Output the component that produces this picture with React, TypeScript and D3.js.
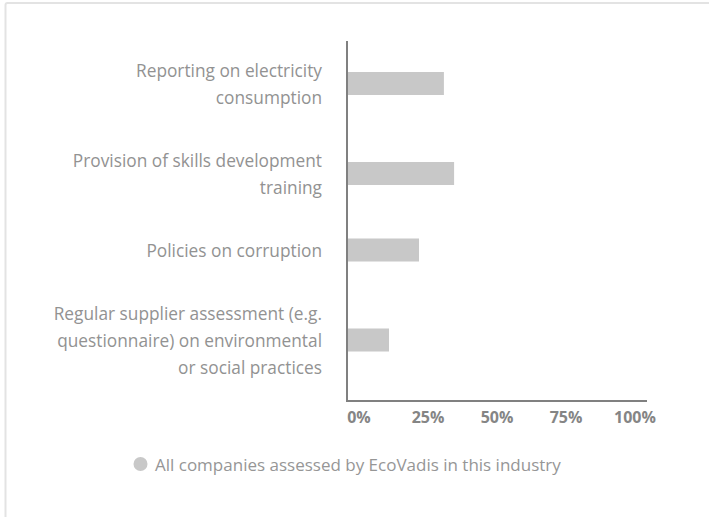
import React from "react";
import * as d3 from "d3";

const categories: string[][] = [
  ["Reporting on electricity", "consumption"],
  ["Provision of skills development", "training"],
  ["Policies on corruption"],
  ["Regular supplier assessment (e.g.", "questionnaire) on environmental", "or social practices"],
];
const values: number[] = [32.3, 35.7, 24, 14];
const tickValues: number[] = [0, 25, 50, 75, 100];
const tickLabels: string[] = ["0%", "25%", "50%", "75%", "100%"];
const legendLabel = "All companies assessed by EcoVadis in this industry";

const W = 709;
const H = 517;
const FONT = "'Open Sans', 'Noto Sans', sans-serif";

export default function App() {
  const axisX = 347;
  const axisTop = 41;
  const axisBottom = 401;
  const x = d3.scaleLinear().domain([0, 100]).range([axisX, 647]);
  const xLabel = d3.scaleLinear().domain([0, 100]).range([x(0) + 12, x(100) - 12]);

  const lineH = 27;
  const gap = 36;
  const topPad = 16.5;
  const barH = 23;
  let cursor = axisTop + topPad;
  const blocks = categories.map((lines, i) => {
    const h = lines.length * lineH;
    const b = { lines, value: values[i], top: cursor, center: cursor + h / 2 };
    cursor += h + gap;
    return b;
  });

  return (
    <svg
      width={W}
      height={H}
      style={{ position: "absolute", left: 0, top: 0, background: "#fff" }}
      fontFamily={FONT}
    >
      <rect x={5.5} y={3} width={W + 20} height={H + 20} rx={2} fill="none" stroke="#e3e3e3" strokeWidth={2} />
      {blocks.map((b, i) => (
        <g key={i}>
          <rect
            x={x(0)}
            y={b.center - 1 - barH / 2}
            width={x(b.value) - x(0)}
            height={barH}
            fill="#c8c8c8"
          />
          {b.lines.map((ln, j) => (
            <text
              key={j}
              x={322}
              y={b.top + j * lineH + lineH / 2}
              dy="0.35em"
              textAnchor="end"
              fontSize={17.3}
              fill="#929292"
            >
              {ln}
            </text>
          ))}
        </g>
      ))}
      <line x1={axisX} x2={axisX} y1={axisTop} y2={axisBottom + 1} stroke="#808080" strokeWidth={2} />
      <line x1={axisX - 1} x2={x(100)} y1={axisBottom} y2={axisBottom} stroke="#808080" strokeWidth={2} />
      {tickValues.map((t, i) => (
        <text
          key={t}
          x={xLabel(t)}
          y={423}
          textAnchor="middle"
          fontSize={16}
          fontWeight="bold"
          fill="#858585"
        >
          {tickLabels[i]}
        </text>
      ))}
      <circle cx={140.5} cy={464} r={7} fill="#c8c8c8" />
      <text x={155} y={470.5} fontSize={17} fill="#969696">
        {legendLabel}
      </text>
    </svg>
  );
}
